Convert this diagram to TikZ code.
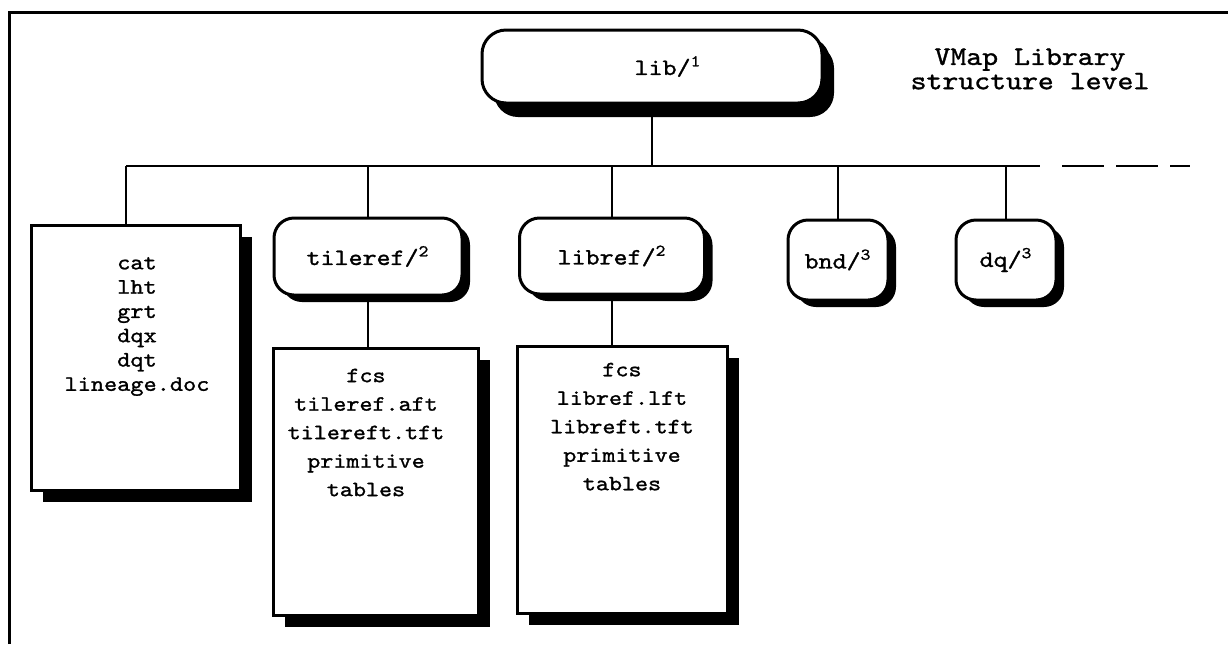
\documentclass[tikz,border=0pt]{standalone}
\usepackage{fontspec}
\setmonofont{lmmono10-regular.otf}[FakeStretch=1.14, FakeBold=1.2]
\usetikzlibrary{positioning, shadows}

\begin{document}
\begin{tikzpicture}[
    x=0.5pt, y=-0.5pt,
    folder/.style={rectangle, rounded corners=10pt, draw, line width=1.5pt,
                   fill=white, inner sep=0pt, font=\fontsize{11.7}{14}\ttfamily,
                   drop shadow={shadow xshift=4pt, shadow yshift=-3.5pt,
                                fill=black, opacity=1}},
    filebox/.style={rectangle, draw, line width=1.5pt, fill=white,
                    drop shadow={shadow xshift=6pt, shadow yshift=-6pt,
                                 fill=black, opacity=1}},
    filelist/.style={align=center, inner sep=0pt},
    link/.style={line width=1.4pt}
  ]
    \useasboundingbox (0,0) rectangle (1228,644);
    % frame
    \draw[line width=1.5pt] (9,644) -- (9,12) -- (1228,12);

    \node[folder, rounded corners=12pt, minimum width=170pt, minimum height=36.5pt,
          drop shadow={shadow xshift=6pt, shadow yshift=-7pt, fill=black, opacity=1}]
          (lib) at (652,66.5) {\hspace{16pt}lib/\textsuperscript{1}};
    \node[align=center, inner sep=0pt, font=\fontsize{13.3}{10.75}\selectfont\ttfamily]
          (title) at (1030,69) {VMap Library\\structure level};

    \node[folder, minimum width=94pt, minimum height=38.5pt] (tileref) at (368,256.5) {tileref/\textsuperscript{2}};
    \node[folder, minimum width=92.5pt, minimum height=38pt] (libref) at (612,256) {libref/\textsuperscript{2}};
    \node[folder, minimum width=50pt, minimum height=40pt] (bnd) at (838,260) {bnd/\textsuperscript{3}};
    \node[folder, minimum width=50pt, minimum height=40pt] (dq) at (1006,260) {dq/\textsuperscript{3}};

    \node[filebox, minimum width=104.5pt, minimum height=132.5pt] (catbox) at (135.5,357.5) {};
    \node[filebox, minimum width=102.5pt, minimum height=133.5pt,
          below=25pt of tileref, xshift=3.75pt] (tilefiles) {};
    \node[filebox, minimum width=105pt, minimum height=133.5pt,
          below=24.5pt of libref, xshift=5pt] (libfiles) {};

    \node[filelist, font=\fontsize{11}{12.15}\selectfont\ttfamily] (catlist) at (137,326.5)
          {cat\\lht\\grt\\dqx\\dqt\\lineage.doc};
    \node[filelist, font=\fontsize{10.9}{14.25}\selectfont\ttfamily] (tilelist) at (366,432.5)
          {fcs\\tileref.aft\\tilereft.tft\\primitive\\tables};
    \node[filelist, font=\fontsize{10.9}{14.25}\selectfont\ttfamily] (liblist) at (622,426.6)
          {fcs\\libref.lft\\libreft.tft\\primitive\\tables};

    % bus
    \coordinate (busL) at (126,166);
    \coordinate (busR) at (1040,166);
    \coordinate (dashL) at (1062,166);
    \coordinate (busEnd) at (1190,166);

    \draw[link] (lib.south) -- (lib.south |- busL);
    \draw[link] (busL) -- (busR);
    \draw[link, dash pattern=on 21pt off 6pt] (dashL) -- (busEnd);
    \draw[link] (busL) -- (catbox.north -| busL);
    \foreach \n in {tileref, libref, bnd, dq}
        \draw[link] (\n.north |- busL) -- (\n.north);
    \draw[link] (tileref.south) -- (tileref.south |- tilefiles.north);
    \draw[link] (libref.south) -- (libref.south |- libfiles.north);
  \end{tikzpicture}
\end{document}
